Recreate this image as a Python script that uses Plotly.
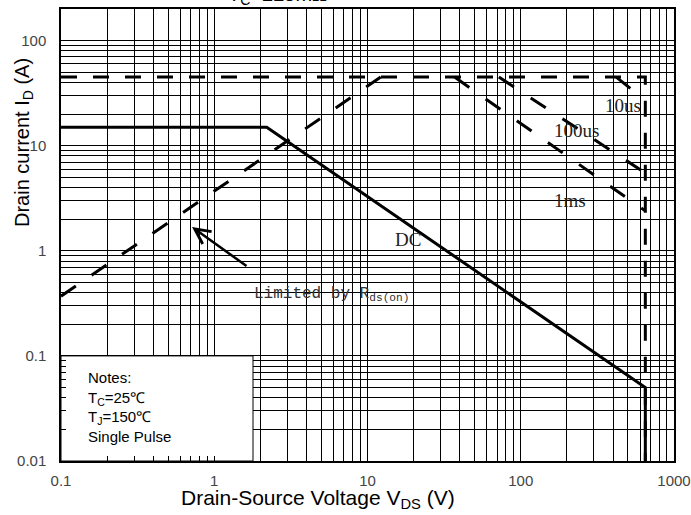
import plotly.graph_objects as go

# ---------------- data ----------------
dc_v = [0.1, 2.2, 650, 650]
dc_i = [15, 15, 0.05, 0.01]

rds_v = [0.1, 12.2]
rds_i = [0.37, 45]

limit_v = [0.1, 650, 650]
limit_i = [45, 45, 0.01]

t10us_v = [420, 650]
t10us_i = [45, 27]
t100us_v = [72, 650]
t100us_i = [45, 5.5]
t1ms_v = [37, 650]
t1ms_i = [45, 2.4]

# notes box outline (V, A)
notes_v = [0.1, 1.79, 1.79, 0.1, 0.1]
notes_i = [0.01, 0.01, 0.1, 0.1, 0.01]

x_tickvals = [0.1, 1, 10, 100, 1000]
x_ticktext = ["0.1", "1", "10", "100", "1000"]
y_tickvals = [0.01, 0.1, 1, 10, 100]
y_ticktext = ["0.01", "0.1", "1", "10", "100"]

x_minor = [m * 10 ** e for e in range(-1, 3) for m in range(2, 10)]
y_minor = [m * 10 ** e for e in range(-2, 3) for m in range(2, 10)]

fig = go.Figure()

# white notes box hiding the grid (traces sit above grid, below axis ticks)
fig.add_trace(go.Scatter(x=notes_v, y=notes_i, mode="lines", fill="toself",
                         fillcolor="white", line=dict(color="black", width=1),
                         hoverinfo="skip"))

dash_straight = "16px,16px"
dash_diag = "18px,20px"

fig.add_trace(go.Scatter(x=limit_v, y=limit_i, mode="lines",
                         line=dict(color="black", width=3, dash=dash_straight)))
fig.add_trace(go.Scatter(x=rds_v, y=rds_i, mode="lines",
                         line=dict(color="black", width=3, dash="18px,19px")))
for xv, yv in [(t10us_v, t10us_i), (t100us_v, t100us_i), (t1ms_v, t1ms_i)]:
    fig.add_trace(go.Scatter(x=xv, y=yv, mode="lines",
                             line=dict(color="black", width=3, dash=dash_diag)))
fig.add_trace(go.Scatter(x=dc_v, y=dc_i, mode="lines",
                         line=dict(color="black", width=3)))

tickfont = dict(family="Liberation Sans, Arial", size=15, color="#444")

fig.update_xaxes(type="log", range=[-1, 3], automargin=False,
                 tickmode="array", tickvals=x_tickvals, ticktext=x_ticktext,
                 showgrid=True, gridcolor="black", gridwidth=1,
                 ticks="inside", ticklen=5, tickcolor="black",
                 showline=True, linecolor="black", linewidth=1.5, mirror=True,
                 tickfont=tickfont, ticklabelstandoff=5, zeroline=False,
                 minor=dict(tickmode="array", tickvals=x_minor, showgrid=True,
                            gridcolor="black", gridwidth=1, ticks="inside",
                            ticklen=5, tickcolor="black"))
fig.update_yaxes(type="log", range=[-2, 2.301], automargin=False,
                 tickmode="array", tickvals=y_tickvals, ticktext=y_ticktext,
                 showgrid=True, gridcolor="black", gridwidth=1,
                 ticks="inside", ticklen=5, tickcolor="black",
                 showline=True, linecolor="black", linewidth=1.5, mirror=True,
                 tickfont=tickfont, ticklabelstandoff=10, zeroline=False,
                 minor=dict(tickmode="array", tickvals=y_minor, showgrid=True,
                            gridcolor="black", gridwidth=1, ticks="inside",
                            ticklen=5, tickcolor="black"))

serif = "Liberation Serif, Times New Roman, serif"
ann = []
ann.append(dict(x=2.667, y=1.387, text="10us", showarrow=False,
                font=dict(family=serif, size=19, color="#222")))
ann.append(dict(x=2.361, y=1.149, text="100us", showarrow=False,
                font=dict(family=serif, size=19, color="#222")))
ann.append(dict(x=2.321, y=0.483, text="1ms", showarrow=False,
                font=dict(family=serif, size=19, color="#222")))
ann.append(dict(x=1.264, y=0.103, text="DC", showarrow=False,
                font=dict(family=serif, size=19, color="#222")))
ann.append(dict(x=0.246, y=-0.411, xanchor="left", showarrow=False,
                text="Limited by R<sub>ds(on)</sub>",
                font=dict(family="Liberation Mono, monospace", size=16, color="#333")))
ann.append(dict(x=-0.145, y=0.226, text="", showarrow=True, ax=56, ay=40,
                arrowhead=5, arrowsize=1.2, arrowwidth=2.5, arrowcolor="black"))
ann.append(dict(x=-0.837, y=-1.486, xanchor="left", yanchor="middle", align="left",
                showarrow=False,
                text="Notes:<br>T<sub>C</sub>=25℃<br>T<sub>J</sub>=150℃<br>Single Pulse",
                font=dict(family="Liberation Sans, Arial", size=15, color="black")))
for a in ann:
    a.setdefault("xref", "x")
    a.setdefault("yref", "y")
# axis titles
ann.append(dict(xref="paper", yref="paper", x=(318 - 61) / 613, y=-(499 - 461) / 452,
                xanchor="center", yanchor="middle", showarrow=False,
                text="Drain-Source Voltage V<sub>DS</sub> (V)",
                font=dict(family="Liberation Sans, Arial", size=21, color="black")))
ann.append(dict(xref="paper", yref="paper", x=-(61 - 23) / 613, y=(461 - 143) / 452,
                xanchor="center", yanchor="middle", showarrow=False, textangle=-90,
                text="Drain current I<sub>D</sub> (A)",
                font=dict(family="Liberation Sans, Arial", size=20, color="black")))
# clipped heading at very top
ann.append(dict(xref="paper", yref="paper", x=(277 - 61) / 613, y=1 - 1 / 452,
                xanchor="center", yanchor="bottom", showarrow=False,
                text="T<sub>C</sub>=225mΩ",
                font=dict(family="Liberation Sans, Arial", size=20, color="black")))

fig.update_layout(width=691, height=515, showlegend=False,
                  margin=dict(l=61, r=17, t=9, b=54),
                  plot_bgcolor="white", paper_bgcolor="white",
                  annotations=ann)

fig.write_html("out.html", config={"displayModeBar": False},
               post_script="document.body.style.margin='0';document.body.style.overflow='hidden';")
